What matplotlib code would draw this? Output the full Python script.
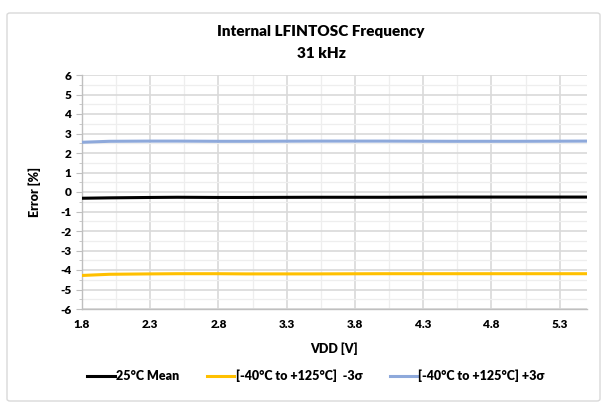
import matplotlib.pyplot as plt
from matplotlib.patches import FancyBboxPatch
from matplotlib.ticker import MultipleLocator

# data
vdd = [1.8, 2.0, 2.3, 2.5, 2.8, 3.0, 3.5, 4.0, 4.5, 5.0, 5.5]
mean_25c = [-0.32, -0.30, -0.28, -0.27, -0.28, -0.28, -0.27, -0.27, -0.26, -0.26, -0.26]
minus_3sigma = [-4.28, -4.22, -4.20, -4.19, -4.19, -4.20, -4.20, -4.19, -4.19, -4.19, -4.19]
plus_3sigma = [2.55, 2.60, 2.61, 2.61, 2.60, 2.60, 2.61, 2.61, 2.60, 2.60, 2.61]

labels = ['25°C Mean', '[-40°C to +125°C]  -3σ', '[-40°C to +125°C] +3σ']
colors = ['#000000', '#FFC000', '#8EA9DB']

plt.rcParams['font.family'] = ['Lato', 'DejaVu Sans']
plt.rcParams['font.weight'] = 'heavy'
plt.rcParams['axes.labelweight'] = 'heavy'
plt.rcParams['axes.unicode_minus'] = False

fig = plt.figure(figsize=(6.09, 4.08), dpi=100)

# outer chart frame
frame = FancyBboxPatch((7 / 609, 7 / 408), 593 / 609, 388 / 408,
                       boxstyle='round,pad=0,rounding_size=0.005',
                       transform=fig.transFigure, facecolor='none',
                       edgecolor='#d9d9d9', linewidth=1.0)
fig.patches.append(frame)

ax = fig.add_axes([82 / 609, 1 - 309 / 408, (587 - 82) / 609, (309 - 75) / 408])

for y, c, lab in zip([mean_25c, minus_3sigma, plus_3sigma], colors, labels):
    ax.plot(vdd, y, color=c, linewidth=2.2, label=lab, zorder=3)

ax.set_xlim(1.8, 5.5)
ax.set_ylim(-6, 6)
ax.yaxis.set_major_locator(MultipleLocator(1))
ax.yaxis.set_minor_locator(MultipleLocator(0.5))
ax.set_xticks([1.8, 2.3, 2.8, 3.3, 3.8, 4.3, 4.8, 5.3])
ax.set_xticks([2.05, 2.55, 3.05, 3.55, 4.05, 4.55, 5.05], minor=True)
ax.set_xticklabels(['1.8', '2.3', '2.8', '3.3', '3.8', '4.3', '4.8', '5.3'])

ax.grid(True, which='major', color='#d9d9d9', linewidth=1.2, zorder=0)
ax.grid(True, which='minor', color='#eeeeee', linewidth=0.9, zorder=0)
ax.set_axisbelow(True)

for s in ['top', 'right']:
    ax.spines[s].set_visible(False)
for s in ['left', 'bottom']:
    ax.spines[s].set_color('#bfbfbf')
    ax.spines[s].set_linewidth(1.0)

ax.tick_params(axis='both', which='both', colors='#bfbfbf', labelcolor='black',
               labelsize=8.5)
ax.tick_params(axis='y', which='major', length=4)
ax.tick_params(axis='y', which='minor', length=2)
ax.tick_params(axis='x', which='both', length=0, pad=7)

ax.set_xlabel('VDD [V]', fontsize=9, labelpad=9)
ax.set_ylabel('Error [%]', fontsize=9, labelpad=14)

fig.text(321 / 609, 1 - 31 / 408, 'Internal LFINTOSC Frequency', ha='center', va='center',
         fontsize=11, fontweight='heavy')
fig.text(321 / 609, 1 - 53 / 408, '31 kHz', ha='center', va='center', fontsize=11,
         fontweight='heavy')

fig.legend(loc='center', bbox_to_anchor=(316 / 609, 1 - 376 / 408), ncol=3, frameon=False,
           prop={'size': 9, 'weight': 'heavy'}, handlelength=2.2, handletextpad=0.1,
           columnspacing=2.2)

fig.savefig('out.png', dpi=100)
